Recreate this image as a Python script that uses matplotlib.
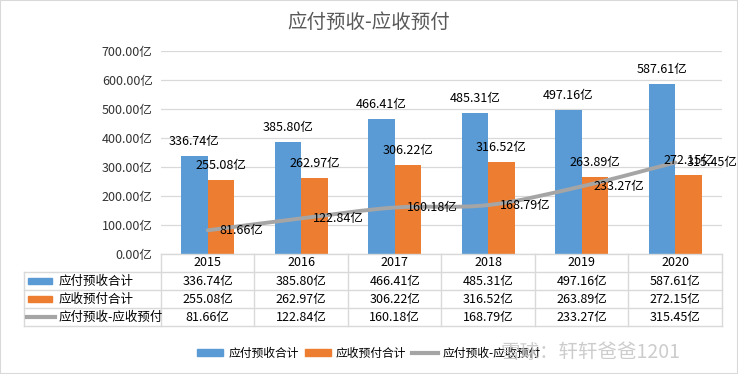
import numpy as np
import matplotlib
matplotlib.use("Agg")
import matplotlib.pyplot as plt
from matplotlib.path import Path
from matplotlib.patches import PathPatch, Rectangle, Patch
from matplotlib.lines import Line2D

plt.rcParams["font.family"] = ["Noto Sans CJK SC", "DejaVu Sans"]

years = ["2015", "2016", "2017", "2018", "2019", "2020"]
yfys = [336.74, 385.80, 466.41, 485.31, 497.16, 587.61]   # 应付预收合计
ysyf = [255.08, 262.97, 306.22, 316.52, 263.89, 272.15]   # 应收预付合计
diff = [81.66, 122.84, 160.18, 168.79, 233.27, 315.45]    # 应付预收-应收预付
names = ["应付预收合计", "应收预付合计", "应付预收-应收预付"]
yticks = [0, 100, 200, 300, 400, 500, 600, 700]

blue = "#5B9BD5"
orange = "#ED7D31"
gray = "#A5A5A5"
grid_c = "#D9D9D9"

W, H = 738, 374
fig = plt.figure(figsize=(W / 100, H / 100), dpi=100)


def fx(p):
    return p / W


def fy(p):
    return 1 - p / H


# main chart
ax = fig.add_axes([fx(161), fy(254), fx(722) - fx(161), fy(51) - fy(254)])
x = np.arange(len(years))
bw = 0.285
ax.bar(x - bw / 2, yfys, bw, color=blue, zorder=2)
ax.bar(x + bw / 2, ysyf, bw, color=orange, zorder=2)

# smoothed line (bezier through the points)
pts = np.column_stack([x, diff]).astype(float)
verts = [pts[0]]
codes = [Path.MOVETO]
for i in range(len(pts) - 1):
    p0 = pts[max(i - 1, 0)]
    p1 = pts[i]
    p2 = pts[i + 1]
    p3 = pts[min(i + 2, len(pts) - 1)]
    verts += [p1 + (p2 - p0) / 6, p2 - (p3 - p1) / 6, p2]
    codes += [Path.CURVE4] * 3
ax.add_patch(PathPatch(Path(verts, codes), fill=False, edgecolor=gray,
                       lw=2.8, zorder=3, capstyle="round"))

for i in range(len(years)):
    ax.annotate(f"{yfys[i]:.2f}亿", (x[i] - bw / 2, yfys[i]), xytext=(0, 10.5),
                textcoords="offset points", ha="center", va="center", fontsize=9, zorder=5)
    ax.annotate(f"{ysyf[i]:.2f}亿", (x[i] + bw / 2, ysyf[i]), xytext=(0, 10.5),
                textcoords="offset points", ha="center", va="center", fontsize=9, zorder=5)
    ax.annotate(f"{diff[i]:.2f}亿", (x[i], diff[i]), xytext=(8.5, 0),
                textcoords="offset points", ha="left", va="center", fontsize=9, zorder=5)

ax.set_xlim(-0.5, len(years) - 0.5)
ax.set_ylim(0, 700)
ax.set_yticks(yticks)
ax.set_yticklabels([f"{v:.2f}亿" for v in yticks], fontsize=9, color="#333333")
ax.set_xticks([])
ax.tick_params(axis="y", length=0, pad=6)
ax.grid(axis="y", color=grid_c, lw=0.9, zorder=0)
ax.set_axisbelow(True)
for s in ax.spines.values():
    s.set_visible(False)
ax.patch.set_alpha(0)

# data table
tax = fig.add_axes([fx(23.5), fy(326), fx(722) - fx(23.5), fy(254) - fy(326)])
left = -0.5 - (161 - 23.5) / 93.5
tax.set_xlim(left, len(years) - 0.5)
tax.set_ylim(4, 0)
tax.axis("off")


def px2x(p):
    return -0.5 + (p - 161) / 93.5


lk = dict(color=grid_c, lw=1, clip_on=False)
tax.plot([-0.5, len(years) - 0.5], [0, 0], **lk)
for r in [1, 2, 3, 4]:
    tax.plot([left, len(years) - 0.5], [r, r], **lk)
for k in range(len(years) + 1):
    tax.plot([k - 0.5, k - 0.5], [0, 4], **lk)
tax.plot([left, left], [1, 4], **lk)

rows = [yfys, ysyf, diff]
for i, yr in enumerate(years):
    tax.text(i, 0.5, yr, ha="center", va="center", fontsize=9)
    for r, vals in enumerate(rows):
        tax.text(i, r + 1.5, f"{vals[i]:.2f}亿", ha="center", va="center", fontsize=9)

kx0, kx1 = px2x(28), px2x(52)
tax.add_patch(Rectangle((kx0, 1.5 - 0.17), kx1 - kx0, 0.34, color=blue, clip_on=False))
tax.add_patch(Rectangle((kx0, 2.5 - 0.17), kx1 - kx0, 0.34, color=orange, clip_on=False))
tax.plot([px2x(27), px2x(55)], [3.5, 3.5], color=gray, lw=3, clip_on=False)
for r, nm in enumerate(names):
    tax.text(px2x(59), r + 1.5, nm, ha="left", va="center", fontsize=9)

fig.text(0.5, fy(22), "应付预收-应收预付", ha="center", va="center",
         fontsize=14, color="#595959")

handles = [Patch(color=blue), Patch(color=orange), Line2D([], [], color=gray, lw=3)]
fig.legend(handles, names, ncol=3, loc="center", bbox_to_anchor=(fx(369), fy(353)),
           frameon=False, fontsize=8.5, handlelength=2.2, handleheight=0.5,
           handletextpad=0.4, columnspacing=0.5)

fig.text(fx(500), fy(352), "雪球：轩轩爸爸1201", ha="left", va="center",
         fontsize=14, color="#C4C4C4", alpha=0.85, zorder=10)

fig.add_artist(Rectangle((0, 0), 1, 1, transform=fig.transFigure, fill=False,
                         edgecolor=grid_c, lw=1.5))

fig.savefig("out.png", dpi=100)
